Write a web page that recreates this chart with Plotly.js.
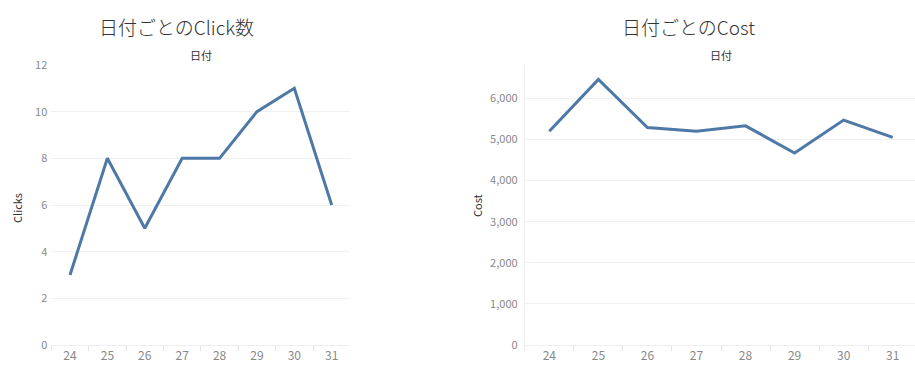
<!DOCTYPE html>
<html>
<head>
<meta charset="utf-8">
<script src="https://cdn.plot.ly/plotly-3.0.1.min.js"></script>
<style>html,body{margin:0;padding:0;background:#fff;}#chart{width:915px;height:377px;}</style>
</head>
<body>
<div id="chart"></div>
<script>
const days = ["24", "25", "26", "27", "28", "29", "30", "31"];
const clicks = [3, 8, 5, 8, 8, 10, 11, 6];
const cost = [5200, 6460, 5290, 5200, 5330, 4670, 5470, 5050];
const clickTicks = [0, 2, 4, 6, 8, 10, 12];
const costTicks = [0, 1000, 2000, 3000, 4000, 5000, 6000];
const titles = ["日付ごとのClick数", "日付ごとのCost"];
const xTitle = "日付";
const yTitles = ["Clicks", "Cost"];

const W = 915, H = 377;
const lineColor = "#4e79a7";
const font = "'Noto Sans CJK JP', 'Noto Sans', sans-serif";

const traces = [
  {x: days, y: clicks, type: "scatter", mode: "lines", xaxis: "x", yaxis: "y",
   line: {color: lineColor, width: 3}, hoverinfo: "x+y"},
  {x: days, y: cost, type: "scatter", mode: "lines", xaxis: "x2", yaxis: "y2",
   line: {color: lineColor, width: 3}, hoverinfo: "x+y"}
];

const yDom = [(H - 345) / H, (H - 65) / H];
const baseX = {
  type: "category", showgrid: false, zeroline: false,
  showline: true, linecolor: "#eeeeee", linewidth: 1,
  ticks: "outside", tickson: "boundaries", ticklen: 5, tickcolor: "#e6e6e6",
  tickfont: {family: font, size: 12, color: "#888"}, fixedrange: true
};
const baseY = {
  showgrid: true, gridcolor: "#f0f0f0", gridwidth: 1, zeroline: false,
  showline: false, ticks: "", tickfont: {family: font, size: 11, color: "#888"},
  fixedrange: true
};

const layout = {
  width: W, height: H,
  margin: {l: 0, r: 0, t: 0, b: 0},
  paper_bgcolor: "#fff", plot_bgcolor: "#fff",
  showlegend: false,
  xaxis: Object.assign({}, baseX, {domain: [51.3 / W, 350.4 / W], range: [-0.5, 7.5], anchor: "y"}),
  yaxis: Object.assign({}, baseY, {domain: yDom, range: [0, 12], tickvals: clickTicks,
    ticktext: clickTicks.map(String), anchor: "x", ticklabelstandoff: 3}),
  xaxis2: Object.assign({}, baseX, {domain: [524.8 / W, 1], range: [-0.5, 7.455], anchor: "y2"}),
  yaxis2: Object.assign({}, baseY, {domain: yDom, range: [0, 6810], tickvals: costTicks,
    ticktext: costTicks.map(v => v.toLocaleString("en-US")), anchor: "x2",
    showline: true, linecolor: "#eeeeee", linewidth: 1, ticklabelstandoff: 4}),
  annotations: [
    {text: titles[0], x: 176 / W, y: (H - 27) / H, xref: "paper", yref: "paper", showarrow: false,
     xanchor: "center", yanchor: "middle", font: {family: font, size: 19, color: "#333", weight: 300}},
    {text: titles[1], x: 688 / W, y: (H - 27) / H, xref: "paper", yref: "paper", showarrow: false,
     xanchor: "center", yanchor: "middle", font: {family: font, size: 19, color: "#333", weight: 300}},
    {text: xTitle, x: 201 / W, y: (H - 55) / H, xref: "paper", yref: "paper", showarrow: false,
     xanchor: "center", yanchor: "middle", font: {family: font, size: 11, color: "#333"}},
    {text: xTitle, x: 721 / W, y: (H - 55) / H, xref: "paper", yref: "paper", showarrow: false,
     xanchor: "center", yanchor: "middle", font: {family: font, size: 11, color: "#333"}},
    {text: yTitles[0], x: 17 / W, y: (H - 208) / H, xref: "paper", yref: "paper", showarrow: false,
     textangle: -90, xanchor: "center", yanchor: "middle", font: {family: font, size: 11, color: "#333"}},
    {text: yTitles[1], x: 477 / W, y: (H - 205) / H, xref: "paper", yref: "paper", showarrow: false,
     textangle: -90, xanchor: "center", yanchor: "middle", font: {family: font, size: 11, color: "#333"}}
  ]
};

Plotly.newPlot("chart", traces, layout, {displayModeBar: false});
</script>
</body>
</html>
